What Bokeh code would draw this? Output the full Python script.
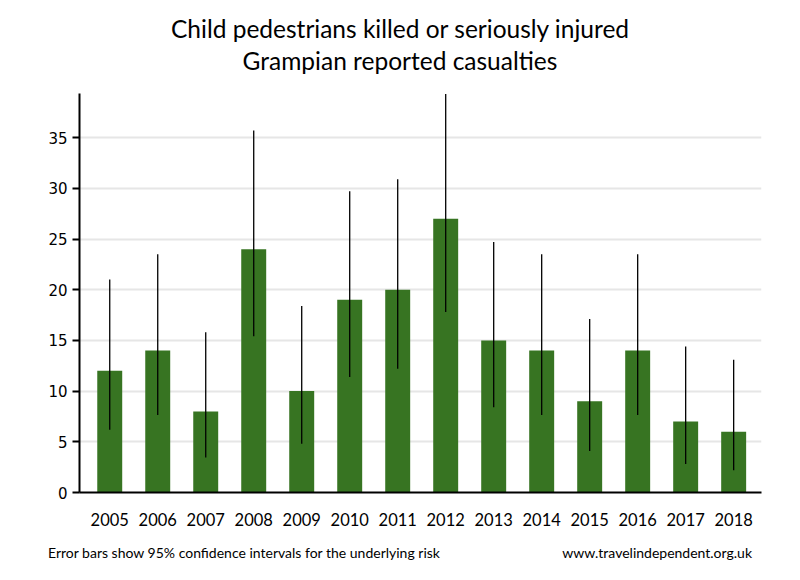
from bokeh.plotting import figure
from bokeh.models import FixedTicker, Range1d, ColumnDataSource, Div
from bokeh.layouts import column
from bokeh.embed import file_html
from bokeh.resources import INLINE

title_lines = ["Child pedestrians killed or seriously injured", "Grampian reported casualties"]
footnote = "Error bars show 95% confidence intervals for the underlying risk"
source_url = "www.travelindependent.org.uk"

years = ["2005", "2006", "2007", "2008", "2009", "2010", "2011",
         "2012", "2013", "2014", "2015", "2016", "2017", "2018"]
casualties = [12, 14, 8, 24, 10, 19, 20, 27, 15, 14, 9, 14, 7, 6]
ci_low = [6.2, 7.65, 3.45, 15.4, 4.8, 11.4, 12.2, 17.8, 8.4, 7.65, 4.1, 7.65, 2.8, 2.2]
ci_high = [21.0, 23.5, 15.8, 35.7, 18.4, 29.7, 30.9, 39.3, 24.7, 23.5, 17.1, 23.5, 14.4, 13.1]
y_ticks = [0, 5, 10, 15, 20, 25, 30, 35]

pos = list(range(len(years)))
src = ColumnDataSource(dict(x=pos, top=casualties, lo=ci_low, hi=ci_high))

FONT = "Lato"
W = 784

title_div = Div(width=W, height=80, margin=0, text=(
    f'<div style="width:{W}px;text-align:center;font-family:{FONT};font-size:24.5px;'
    f'line-height:32px;padding-top:13px;color:black;margin-left:8px">'
    f'{title_lines[0]}<br>{title_lines[1]}</div>'))

p = figure(width=W, height=455, output_backend="svg", toolbar_location=None,
           x_range=Range1d(-0.63, 13.58), y_range=Range1d(0, 39.35),
           min_border_left=79, min_border_right=23, min_border_top=13,
           min_border_bottom=43, margin=0)
p.outline_line_color = None

p.vbar(x="x", top="top", width=0.52, bottom=0, source=src,
       fill_color="#377422", line_color=None)
p.segment(x0="x", x1="x", y0="lo", y1="hi", source=src,
          line_color="black", line_width=1.3)

p.xgrid.grid_line_color = None
p.ygrid.grid_line_color = "#e6e6e6"
p.ygrid.grid_line_width = 2
p.ygrid.ticker = FixedTicker(ticks=y_ticks)

p.yaxis.ticker = FixedTicker(ticks=y_ticks)
p.yaxis.axis_line_width = 2
p.yaxis.major_tick_line_width = 2
p.yaxis.major_tick_out = 7
p.yaxis.major_tick_in = 0
p.yaxis.minor_tick_line_color = None
p.yaxis.major_label_text_font = "DejaVu Sans"
p.yaxis.major_label_text_font_size = "15px"
p.yaxis.major_label_text_color = "black"
p.yaxis.major_label_standoff = 5

p.xaxis.ticker = FixedTicker(ticks=pos)
p.xaxis.major_label_overrides = {i: y for i, y in enumerate(years)}
p.xaxis.axis_line_width = 2
p.xaxis.major_tick_line_color = None
p.xaxis.minor_tick_line_color = None
p.xaxis.major_label_text_font = FONT
p.xaxis.major_label_text_font_size = "16.5px"
p.xaxis.major_label_text_color = "black"
p.xaxis.major_label_standoff = 14

foot_div = Div(width=W, height=40, margin=0, text=(
    f'<div style="display:flex;justify-content:space-between;width:704px;'
    f'margin-left:48px;padding-top:8px;line-height:20px;font-family:{FONT};'
    f'font-size:14px;color:black"><span>{footnote}</span><span>{source_url}</span></div>'))

layout = column(title_div, p, foot_div, spacing=0)
open("out.html", "w").write(file_html(layout, INLINE))
